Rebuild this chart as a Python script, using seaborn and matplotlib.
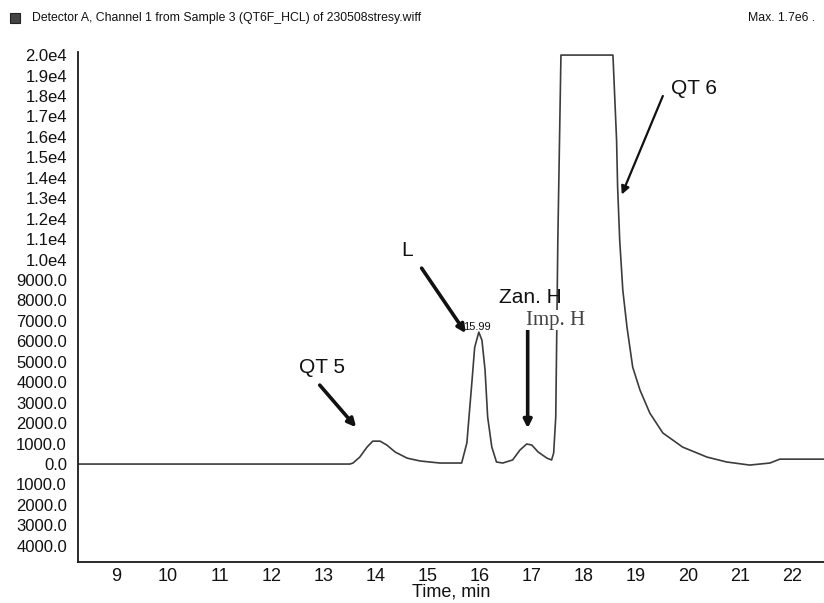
import matplotlib
matplotlib.use('Agg')
import matplotlib.pyplot as plt
import seaborn as sns
import pandas as pd
from matplotlib.patches import Rectangle
from matplotlib.ticker import FixedLocator, MultipleLocator

# ---------------- data ----------------
time_min = [8.27, 13.50, 13.56, 13.69, 13.83, 13.94, 14.08, 14.21, 14.37, 14.60,
            14.85, 15.23, 15.62, 15.65, 15.75, 15.85, 15.90, 15.98, 16.04, 16.10,
            16.15, 16.23, 16.32, 16.44, 16.63, 16.77, 16.90, 17.00, 17.12, 17.29,
            17.38, 17.42, 17.46, 17.48, 17.50, 17.56, 18.56, 18.63, 18.65, 18.69,
            18.75, 18.83, 18.94, 19.08, 19.27, 19.52, 19.90, 20.37, 20.75, 21.19,
            21.58, 21.77, 22.62]
intensity = [0, 0, 50, 340, 830, 1120, 1120, 930, 590, 290,
             150, 50, 50, 50, 1030, 4100, 5700, 6450, 6060, 4600,
             2300, 830, 100, 50, 200, 680, 980, 930, 590, 290,
             200, 540, 2300, 6550, 10950, 20000, 20000, 15840, 13550, 10950,
             8500, 6700, 4740, 3620, 2490, 1520, 830, 340, 100, -50,
             50, 240, 240]

y_ticks = [20000, 19000, 18000, 17000, 16000, 15000, 14000, 13000, 12000, 11000,
           10000, 9000, 8000, 7000, 6000, 5000, 4000, 3000, 2000, 1000, 0,
           -1000, -2000, -3000, -4000]
y_tick_labels = ["2.0e4", "1.9e4", "1.8e4", "1.7e4", "1.6e4", "1.5e4", "1.4e4", "1.3e4",
                 "1.2e4", "1.1e4", "1.0e4", "9000.0", "8000.0", "7000.0", "6000.0",
                 "5000.0", "4000.0", "3000.0", "2000.0", "1000.0", "0.0",
                 "1000.0", "2000.0", "3000.0", "4000.0"]
x_ticks = [9, 10, 11, 12, 13, 14, 15, 16, 17, 18, 19, 20, 21, 22]
x_tick_labels = [str(v) for v in x_ticks]

header_text = "Detector A, Channel 1 from Sample 3 (QT6F_HCL) of 230508stresy.wiff"
max_text = "Max. 1.7e6 ."

# annotations: (label, text_xy, arrow_tail, arrow_head) in data units
peak_labels = ["QT 5", "L", "Zan. H", "QT 6"]
peak_label_pos = [(12.97, 4700), (14.6, 10450), (16.97, 8150), (20.12, 18350)]
arrow_tails = [(12.92, 3860), (14.88, 9580), (16.92, 6550), (19.52, 18000)]
arrow_heads = [(13.62, 1800), (15.73, 6400), (16.92, 1750), (18.73, 13180)]

# ---------------- figure ----------------
sns.set_style("white")
plt.rcParams['font.family'] = ['Liberation Sans', 'DejaVu Sans']

fig = plt.figure(figsize=(8.24, 6.03), dpi=100)
ax = fig.add_axes([78 / 824, 1 - 562 / 603, 1 - 78 / 824, (562 - 52) / 603])

df = pd.DataFrame({"Time, min": time_min, "Intensity": intensity})
sns.lineplot(data=df, x="Time, min", y="Intensity", ax=ax, color="#3c3c3c",
             linewidth=1.2, sort=True, estimator=None)

ax.set_xlim(8.27, 22.62)
ax.set_ylim(-4790, 20150)

for s in ["top", "right"]:
    ax.spines[s].set_visible(False)
for s in ["left", "bottom"]:
    ax.spines[s].set_color("#1a1a1a")
    ax.spines[s].set_linewidth(1.3)

ax.yaxis.set_major_locator(FixedLocator(y_ticks))
ax.set_yticklabels(y_tick_labels)
ax.xaxis.set_major_locator(FixedLocator(x_ticks))
ax.set_xticklabels(x_tick_labels)
ax.xaxis.set_minor_locator(MultipleLocator(0.5))

ax.tick_params(axis='y', which='major', direction='out', length=2, width=1,
               color='#333333', labelsize=12, pad=6, labelcolor='#111111')
ax.tick_params(axis='x', which='both', direction='in', length=3, width=1,
               color='#333333', labelsize=13, pad=4, labelcolor='#111111')
ax.tick_params(axis='x', which='minor', length=2)

ax.set_ylabel("")
ax.set_xlabel("Time, min", fontsize=13, color='#111111', labelpad=-1)

# annotations
for lab, pos, tail, head in zip(peak_labels, peak_label_pos, arrow_tails, arrow_heads):
    ax.text(pos[0], pos[1], lab, fontsize=15, ha='center', va='center', color='#111111',
            zorder=5)
    ax.annotate("", xy=head, xytext=tail,
                arrowprops=dict(arrowstyle='-|>', color='#111111',
                                lw=2.6 if lab != "QT 6" else 1.6,
                                mutation_scale=12, shrinkA=0, shrinkB=0), zorder=4)

ax.text(15.94, 6700, "15.99", fontsize=8, ha='center', va='center', color='#111111', zorder=5)
ax.text(17.46, 7030, "Imp. H", fontsize=15, ha='center', va='center', color='#444444',
        family=['Liberation Serif', 'DejaVu Serif'], zorder=6,
        bbox=dict(facecolor='white', edgecolor='none', pad=0.5))

# header
fig.patches.append(Rectangle((10 / 824, 1 - 23 / 603), 10 / 824, 10 / 603,
                             transform=fig.transFigure, facecolor='#444444',
                             edgecolor='#222222', linewidth=0.8))
fig.text(32 / 824, 1 - 18 / 603, header_text, fontsize=8.8, va='center', ha='left',
         color='#111111')
fig.text(815 / 824, 1 - 18 / 603, max_text, fontsize=8.8, va='center', ha='right',
         color='#111111')

fig.savefig("out.png", dpi=100)
